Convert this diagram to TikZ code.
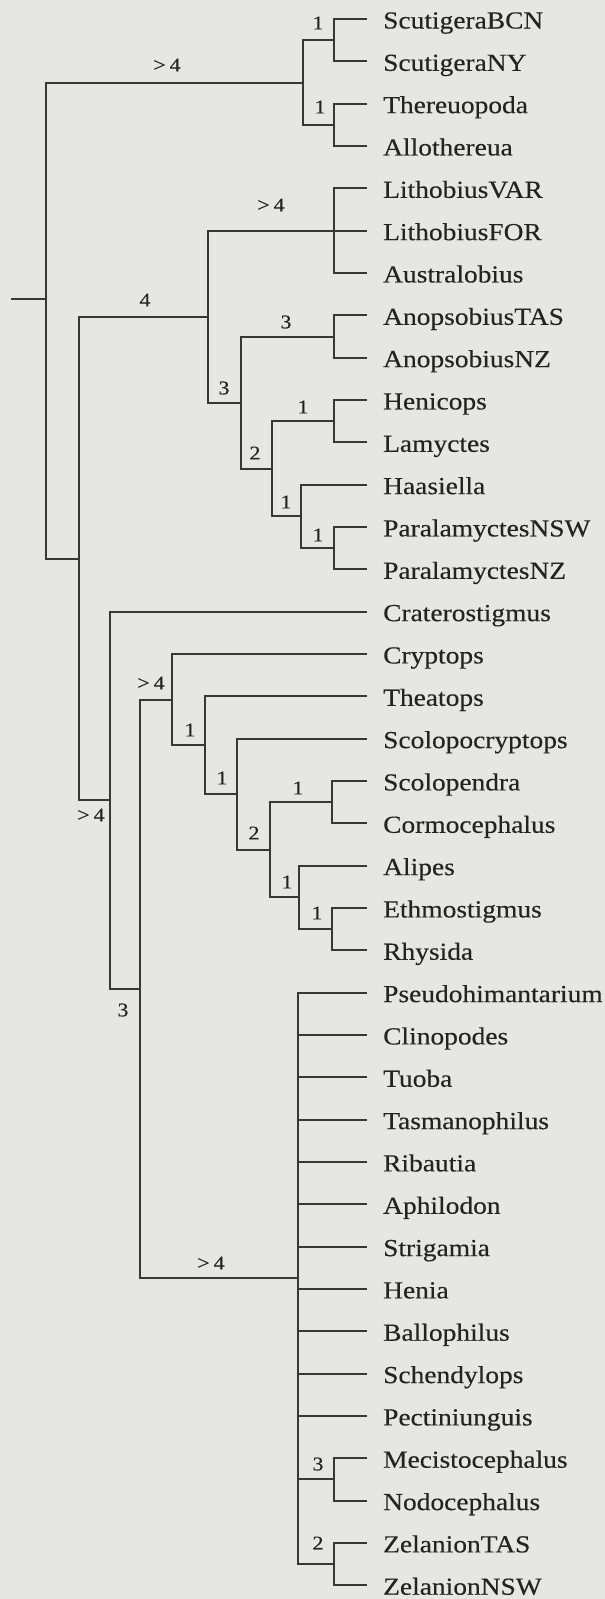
\documentclass[tikz,border=0pt]{standalone}
\usepackage{fontspec}
\setmainfont{Liberation Serif}[FakeStretch=1.12,FakeBold=0.3]
\definecolor{bg}{RGB}{230,230,228}
\definecolor{linecol}{RGB}{55,55,55}
\definecolor{txtcol}{RGB}{35,35,35}
\begin{document}
\begin{tikzpicture}[x=1pt,y=-1pt,
  br/.style={draw=linecol,line width=2pt},
  taxon/.style={anchor=base west,inner sep=0pt,text=txtcol,font=\fontsize{24.5}{26}\selectfont},
  sup/.style={inner sep=0pt,text=txtcol,font=\fontsize{19.5}{21}\selectfont}]
\fill[bg] (0,0) rectangle (605,1599);
\useasboundingbox (0,0) rectangle (605,1599);
% leaves
\foreach \n [count=\i from 0] in {ScutigeraBCN,ScutigeraNY,Thereuopoda,Allothereua,LithobiusVAR,LithobiusFOR,Australobius,AnopsobiusTAS,AnopsobiusNZ,Henicops,Lamyctes,Haasiella,ParalamyctesNSW,ParalamyctesNZ,Craterostigmus,Cryptops,Theatops,Scolopocryptops,Scolopendra,Cormocephalus,Alipes,Ethmostigmus,Rhysida,Pseudohimantarium,Clinopodes,Tuoba,Tasmanophilus,Ribautia,Aphilodon,Strigamia,Henia,Ballophilus,Schendylops,Pectiniunguis,Mecistocephalus,Nodocephalus,ZelanionTAS,ZelanionNSW}{
  \coordinate (t\i) at (367,{19+42.33*\i});
  \node[taxon] (l\i) at (383,{28.5+42.33*\i}) {\n};
}
% internal nodes
\coordinate (Sc1) at (334,40.2);
\coordinate (Sc2) at (334,124.8);
\coordinate (Scut) at (303,82.5);
\coordinate (Lit) at (334,230.7);
\coordinate (Ano) at (334,336.5);
\coordinate (HL) at (334,421.2);
\coordinate (PN) at (334,548.2);
\coordinate (Haa) at (301,516.4);
\coordinate (HLtwo) at (272,468.8);
\coordinate (Hen) at (241,402.6);
\coordinate (Lmorph) at (208,316.7);
\coordinate (Sp) at (332,802.1);
\coordinate (ER) at (332,929.1);
\coordinate (Oto) at (299,897.4);
\coordinate (Scd) at (270,849.7);
\coordinate (Scp) at (237,794.2);
\coordinate (Tsc) at (205,745.2);
\coordinate (Scolo) at (172,699.6);
\coordinate (Mec) at (334,1479.4);
\coordinate (Zel) at (334,1564.1);
\coordinate (Geo) at (298,1278.3);
\coordinate (Epi) at (140,989);
\coordinate (Phyl) at (110,800.3);
\coordinate (Pleuro) at (79,558.5);
\coordinate (root) at (46,299);
\coordinate (stub) at (11,299);
% branches
\draw[br] (stub) -- (root);
\foreach \p/\c in {root/Scut,root/Pleuro,Scut/Sc1,Scut/Sc2,Sc1/t0,Sc1/t1,Sc2/t2,Sc2/t3,
  Pleuro/Lmorph,Pleuro/Phyl,Lmorph/Lit,Lmorph/Hen,Lit/t4,Lit/t5,Lit/t6,Hen/Ano,Hen/HLtwo,
  Ano/t7,Ano/t8,HLtwo/HL,HLtwo/Haa,HL/t9,HL/t10,Haa/t11,Haa/PN,PN/t12,PN/t13,
  Phyl/t14,Phyl/Epi,Epi/Scolo,Epi/Geo,Scolo/t15,Scolo/Tsc,Tsc/t16,Tsc/Scp,Scp/t17,Scp/Scd,
  Scd/Sp,Scd/Oto,Sp/t18,Sp/t19,Oto/t20,Oto/ER,ER/t21,ER/t22,
  Geo/t23,Geo/t24,Geo/t25,Geo/t26,Geo/t27,Geo/t28,Geo/t29,Geo/t30,Geo/t31,Geo/t32,Geo/t33,
  Geo/Mec,Geo/Zel,Mec/t34,Mec/t35,Zel/t36,Zel/t37}
  \draw[br] (\p) |- (\c);
% support values
\node[sup] (s1) at (167,65) {>\kern4pt4};
\node[sup] (s2) at (318,23) {1};
\node[sup] (s3) at (320,107) {1};
\node[sup] (s4) at (271,205) {>\kern4pt4};
\node[sup] (s5) at (145,300) {4};
\node[sup] (s6) at (286,322) {3};
\node[sup] (s7) at (224,388) {3};
\node[sup] (s8) at (303,407) {1};
\node[sup] (s9) at (255,453) {2};
\node[sup] (s10) at (286,502) {1};
\node[sup] (s11) at (318,535) {1};
\node[sup] (s12) at (91,815) {>\kern4pt4};
\node[sup] (s13) at (151,683) {>\kern4pt4};
\node[sup] (s14) at (190,730) {1};
\node[sup] (s15) at (222,778) {1};
\node[sup] (s16) at (254,833) {2};
\node[sup] (s17) at (298,788) {1};
\node[sup] (s18) at (287,882) {1};
\node[sup] (s19) at (317,913) {1};
\node[sup] (s20) at (123,1010) {3};
\node[sup] (s21) at (211,1263) {>\kern4pt4};
\node[sup] (s22) at (318,1464) {3};
\node[sup] (s23) at (318,1543) {2};
\end{tikzpicture}
\end{document}
